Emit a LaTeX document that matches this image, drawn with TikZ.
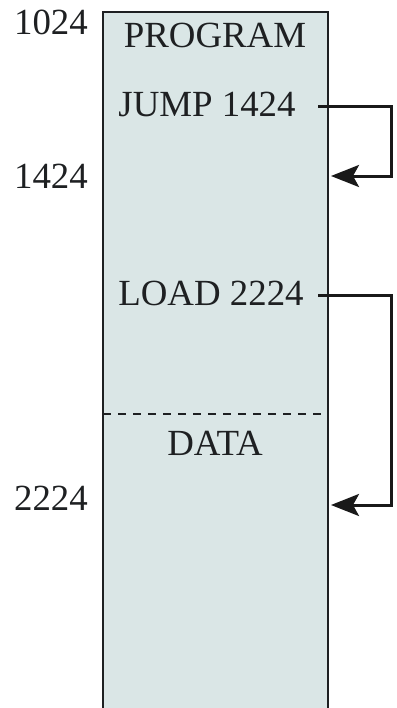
\documentclass[tikz,border=0pt]{standalone}
\usepackage{fontspec}
\setmainfont{Liberation Serif}
\usetikzlibrary{arrows.meta}
\definecolor{memfill}{RGB}{218,230,230}
\definecolor{inkgray}{RGB}{30,32,34}
\tikzset{
  lbl/.style={font=\fontsize{37}{40}\selectfont, text=inkgray, inner sep=0pt, anchor=base},
  addr/.style={lbl, anchor=base east},
  conn/.style={line width=3bp, draw=black!90, -{Stealth[length=28bp, width=22bp, inset=6bp]}},
  sep/.style={line width=1.3bp, draw=inkgray, dash pattern=on 8bp off 7bp},
  edge/.style={line width=1.6bp, draw=inkgray}
}
\begin{document}
\begin{tikzpicture}[x=1bp, y=-1bp]
\useasboundingbox (0,0) rectangle (396,708);
% memory block (open at the bottom)
\fill[memfill] (103,12) rectangle (328,710);
\draw[edge] (103,710) -- (103,12) -- (328,12) -- (328,710);
\draw[sep] (103,414) -- (328,414);
% labels inside
\node[lbl] (prog) at (215,48) {PROGRAM};
\node[lbl] (jump) at (207,117) {JUMP 1424};
\node[lbl] (load) at (211,305) {LOAD 2224};
\node[lbl] (data) at (215,455) {DATA};
% addresses
\node[addr] (a1024) at (88,35) {1024};
\node[addr] (a1424) at (88,188) {1424};
\node[addr] (a2224) at (88,510) {2224};
% targets
\coordinate (t1424) at (331,176);
\coordinate (t2224) at (331,505);
\coordinate (s1424) at (318,107);
\coordinate (s2224) at (318,295);
% connectors
\draw[conn] (s1424) -- (391,107) |- (t1424);
\draw[conn] (s2224) -- (391,295) |- (t2224);
\end{tikzpicture}
\end{document}
